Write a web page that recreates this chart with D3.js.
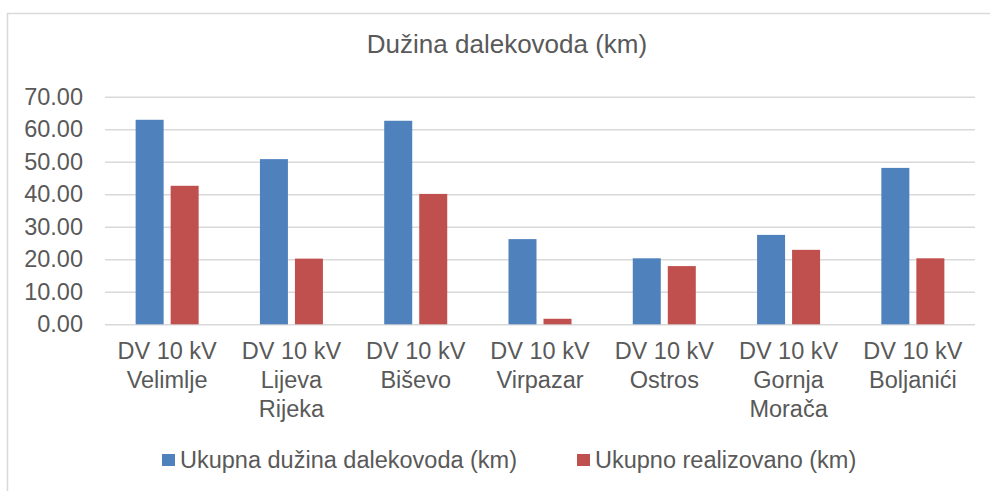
<!DOCTYPE html>
<html>
<head>
<meta charset="utf-8">
<script src="https://cdn.jsdelivr.net/npm/d3@7"></script>
<style>
  body { margin: 0; background: #fff; }
  text { font-family: "Liberation Sans", Arial, sans-serif; fill: #595959; }
</style>
</head>
<body>
<svg id="chart" width="990" height="491"></svg>
<script>
const title = "Dužina dalekovoda (km)";
const categories = [
  "DV 10 kV\nVelimlje",
  "DV 10 kV\nLijeva\nRijeka",
  "DV 10 kV\nBiševo",
  "DV 10 kV\nVirpazar",
  "DV 10 kV\nOstros",
  "DV 10 kV\nGornja\nMorača",
  "DV 10 kV\nBoljanići"
];
const seriesNames = ["Ukupna dužina dalekovoda (km)", "Ukupno realizovano (km)"];
const ukupnaDuzina = [62.9, 50.8, 62.6, 26.2, 20.3, 27.5, 48.1];
const realizovano = [42.6, 20.2, 40.1, 1.7, 17.9, 22.9, 20.3];
const yTicks = [0, 10, 20, 30, 40, 50, 60, 70];

const colors = ["#4F81BD", "#C0504D"];

let svg = d3.select("#chart");

// outer chart border (runs off the right/bottom edge)
svg.append("rect")
  .attr("x", 7.5).attr("y", 13.5)
  .attr("width", 1000).attr("height", 500)
  .attr("fill", "none")
  .attr("stroke", "#D9D9D9")
  .attr("stroke-width", 1.5);

let plotL = 105, plotR = 975, plotT = 96.7, plotB = 324.3;

let x0 = d3.scaleBand()
  .domain(categories)
  .range([plotL, plotR])
  .paddingInner(0.493)
  .paddingOuter(0.2465);

let x1 = d3.scaleBand()
  .domain(seriesNames)
  .range([0, x0.bandwidth()])
  .paddingInner(0.2);

let y = d3.scaleLinear().domain([0, 70]).range([plotB, plotT]);

svg.append("text")
  .attr("x", 507)
  .attr("y", 53)
  .attr("text-anchor", "middle")
  .style("font-size", "26px")
  .text(title);

// y axis + gridlines
let yAxis = svg.append("g")
  .attr("transform", `translate(${plotL},0)`)
  .call(d3.axisLeft(y).tickValues(yTicks).tickFormat(d3.format(".2f"))
    .tickSize(-(plotR - plotL)).tickPadding(22));
yAxis.select(".domain").remove();
yAxis.selectAll("line").attr("stroke", "#D9D9D9").attr("stroke-width", 1.5);
yAxis.selectAll("text")
  .style("font-size", "23.5px")
  .style("font-family", "'Liberation Sans', Arial, sans-serif")
  .attr("fill", "#595959");

// bars
let rows = categories.map((c, i) => ({ cat: c, vals: [ukupnaDuzina[i], realizovano[i]] }));
let groups = svg.selectAll("g.grp")
  .data(rows)
  .enter()
  .append("g")
  .attr("class", "grp")
  .attr("transform", d => `translate(${x0(d.cat)},0)`);

groups.selectAll("rect")
  .data(d => d.vals.map((v, k) => ({ name: seriesNames[k], v: v, k: k })))
  .enter()
  .append("rect")
  .attr("x", d => x1(d.name))
  .attr("width", x1.bandwidth())
  .attr("y", d => y(d.v))
  .attr("height", d => y(0) - y(d.v))
  .attr("fill", d => colors[d.k]);

// x labels
let xAxis = svg.append("g")
  .attr("transform", `translate(0,${plotB})`)
  .call(d3.axisBottom(x0).tickSize(0).tickFormat(""));
xAxis.select(".domain").remove();
xAxis.selectAll(".tick").each(function(d) {
  let t = d3.select(this).append("text")
    .attr("text-anchor", "middle")
    .attr("fill", "#595959")
    .style("font-size", "23.5px")
    .style("font-family", "'Liberation Sans', Arial, sans-serif");
  d.split("\n").forEach((line, i) => {
    t.append("tspan").attr("x", 0).attr("y", 35 + i * 29).text(line);
  });
});

// legend
let legendX = [162, 577];
let legend = svg.selectAll("g.leg")
  .data(seriesNames)
  .enter()
  .append("g")
  .attr("class", "leg")
  .attr("transform", (d, i) => `translate(${legendX[i]},454)`);
legend.append("rect")
  .attr("width", 13).attr("height", 12)
  .attr("fill", (d, i) => colors[i]);
legend.append("text")
  .attr("x", 18)
  .attr("y", 14)
  .style("font-size", "23.5px")
  .text(d => d);
</script>
</body>
</html>
